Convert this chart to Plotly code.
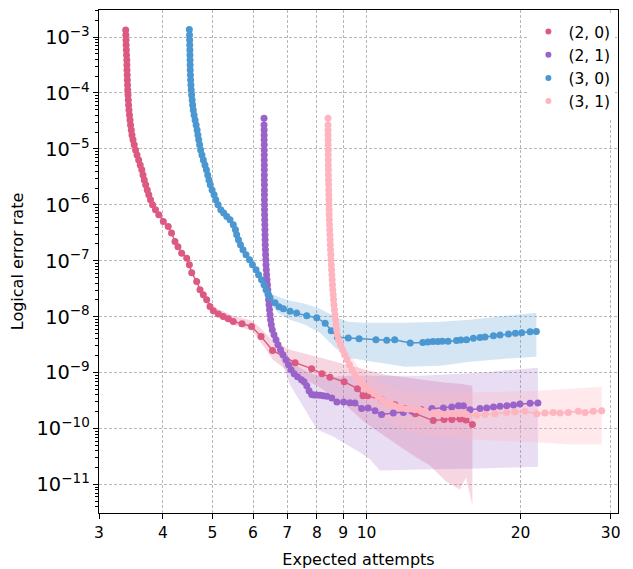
import math
import plotly.graph_objects as go

# ---- series (2, 0) ----
x20 = [3.383, 3.385, 3.388, 3.39, 3.393, 3.396, 3.40, 3.401, 3.403, 3.406,
       3.408, 3.411, 3.414, 3.418, 3.423, 3.427, 3.433, 3.441, 3.449, 3.458,
       3.469, 3.480, 3.496, 3.515, 3.537, 3.560, 3.586, 3.611, 3.637, 3.657,
       3.678, 3.701, 3.728, 3.753, 3.782, 3.817, 3.868, 3.926,
       4.007, 4.096, 4.158, 4.223, 4.28, 4.352, 4.452, 4.505, 4.553, 4.656,
       4.726, 4.797, 4.87, 4.943, 5.018, 5.134, 5.248, 5.368, 5.49, 5.71,
       5.96, 6.22, 6.55, 7.25, 7.81, 8.18, 8.48, 9.04, 9.60, 9.84,
       10.05, 10.72, 11.36, 11.89, 12.45, 13.5, 14.17, 14.68, 15.23, 15.64, 16.1]
y20 = [1.33e-3, 1.09e-3, 8.84e-4, 7.19e-4, 5.86e-4, 4.77e-4, 3.88e-4, 3.16e-4, 2.57e-4, 2.10e-4,
       1.71e-4, 1.39e-4, 1.13e-4, 9.21e-5, 7.50e-5, 6.11e-5, 4.97e-5, 4.05e-5, 3.29e-5, 2.68e-5,
       2.18e-5, 1.78e-5, 1.45e-5, 1.18e-5, 9.60e-6, 7.81e-6, 6.36e-6, 5.18e-6, 4.22e-6, 3.43e-6,
       2.79e-6, 2.28e-6, 1.85e-6, 1.51e-6, 1.23e-6, 1.0e-6, 8.14e-7, 6.63e-7,
       5.04e-7, 4.10e-7, 3.13e-7, 2.21e-7, 1.78e-7, 1.37e-7, 1.11e-7, 8.49e-8, 6.11e-8, 4.27e-8,
       3.03e-8, 2.47e-8, 2.01e-8, 1.53e-8, 1.28e-8, 1.12e-8, 1.01e-8, 9.21e-9, 8.24e-9, 7.50e-9,
       6.71e-9, 4.45e-9, 2.50e-9, 1.51e-9, 1.18e-9, 9.60e-10, 8.31e-10, 6.90e-10, 5.18e-10, 3.88e-10,
       3.88e-10, 3.29e-10, 2.68e-10, 2.28e-10, 1.85e-10, 1.39e-10, 1.45e-10, 1.45e-10, 1.48e-10, 1.42e-10, 1.18e-10]
band_x20 = [4.726, 5.011, 5.483, 5.972, 6.219, 6.563, 7.086, 8.001, 9.077, 9.929,
            10.86, 11.62, 12.43, 13.30, 14.30, 15.23, 15.64, 16.1]
band_lo20 = [2.68e-8, 1.09e-8, 7.19e-9, 5.62e-9, 3.43e-9, 1.71e-9, 1.0e-9, 5.86e-10, 2.68e-10, 1.28e-10,
             7.19e-11, 4.77e-11, 3.16e-11, 2.18e-11, 1.13e-11, 8.14e-12, 1.33e-11, 4.22e-12]
band_hi20 = [3.43e-8, 1.51e-8, 1.04e-8, 8.49e-9, 6.11e-9, 3.73e-9, 2.57e-9, 1.93e-9, 1.39e-9, 1.13e-9,
             9.21e-10, 8.49e-10, 7.82e-10, 7.19e-10, 6.63e-10, 6.36e-10, 6.11e-10, 5.86e-10]

# ---- series (2, 1) ----
x21 = [6.304, 6.304, 6.307, 6.307, 6.307, 6.310, 6.310, 6.310, 6.310, 6.312,
       6.312, 6.312, 6.312, 6.315, 6.315, 6.315, 6.315, 6.318, 6.318, 6.321,
       6.324, 6.327, 6.330, 6.332, 6.335, 6.338, 6.344, 6.349, 6.355, 6.361,
       6.369, 6.378, 6.389, 6.401, 6.412, 6.424, 6.435, 6.447, 6.461, 6.476,
       6.493, 6.514, 6.543, 6.593, 6.653, 6.713, 6.79, 6.866, 6.96, 7.04,
       7.12, 7.22, 7.33, 7.46, 7.55, 7.64, 7.72, 7.81, 7.90, 7.99,
       8.11, 8.23, 8.36, 8.55, 8.75, 9.02, 9.28, 9.49, 9.78, 10.07,
       10.39, 10.70, 11.28, 11.80, 12.26, 12.82, 13.42, 14.13, 14.67, 15.12,
       15.46, 15.93, 16.66, 17.17, 17.70, 18.23, 18.80, 19.37, 19.94, 20.87, 21.62]
y21 = [3.53e-5, 2.68e-5, 2.18e-5, 1.78e-5, 1.45e-5, 1.18e-5, 9.60e-6, 7.81e-6, 6.36e-6, 5.18e-6,
       4.22e-6, 3.43e-6, 2.79e-6, 2.28e-6, 1.85e-6, 1.51e-6, 1.23e-6, 1.0e-6, 8.14e-7, 6.63e-7,
       5.40e-7, 4.39e-7, 3.58e-7, 2.91e-7, 2.37e-7, 1.93e-7, 1.57e-7, 1.28e-7, 1.04e-7, 8.49e-8,
       6.91e-8, 5.62e-8, 4.58e-8, 3.73e-8, 3.03e-8, 2.47e-8, 2.01e-8, 1.64e-8, 1.33e-8, 1.09e-8,
       8.84e-9, 7.19e-9, 5.86e-9, 4.77e-9, 3.88e-9, 3.16e-9, 2.57e-9, 2.10e-9, 1.71e-9, 1.39e-9,
       1.13e-9, 9.60e-10, 8.49e-10, 7.50e-10, 6.90e-10, 5.86e-10, 4.77e-10, 4.05e-10, 4.0e-10, 3.97e-10,
       3.94e-10, 3.86e-10, 3.78e-10, 3.53e-10, 3.0e-10, 3.0e-10, 2.91e-10, 2.88e-10, 2.28e-10, 2.34e-10,
       2.09e-10, 1.78e-10, 1.91e-10, 1.95e-10, 2.04e-10, 2.18e-10, 2.28e-10, 2.34e-10, 2.44e-10, 2.57e-10,
       2.57e-10, 2.18e-10, 2.28e-10, 2.34e-10, 2.44e-10, 2.51e-10, 2.57e-10, 2.65e-10, 2.76e-10, 2.83e-10, 2.88e-10]
band_x21 = [6.419, 6.623, 6.774, 7.086, 7.412, 7.65, 8.001, 8.60, 9.281, 9.71,
            10.16, 10.62, 12.72, 16.66, 21.62]
band_lo21 = [2.28e-8, 3.43e-9, 1.93e-9, 6.11e-10, 3.03e-10, 1.93e-10, 9.60e-11, 7.19e-11, 4.77e-11, 3.73e-11,
             2.79e-11, 1.78e-11, 1.85e-11, 1.93e-11, 2.09e-11]
band_hi21 = [2.68e-8, 5.18e-9, 3.16e-9, 1.71e-9, 1.23e-9, 1.04e-9, 8.84e-10, 8.49e-10, 8.84e-10, 8.84e-10,
             8.84e-10, 8.84e-10, 8.84e-10, 1.0e-9, 1.23e-9]

# ---- series (3, 0) ----
x30 = [4.505, 4.509, 4.511, 4.513, 4.515, 4.517, 4.519, 4.521, 4.523, 4.527,
       4.531, 4.537, 4.543, 4.551, 4.562, 4.572, 4.585, 4.602, 4.623, 4.644,
       4.665, 4.682, 4.699, 4.718, 4.74, 4.768, 4.798, 4.833, 4.864, 4.893,
       4.92, 4.95, 4.99, 5.035, 5.074, 5.125, 5.19, 5.257, 5.332, 5.409,
       5.49, 5.544, 5.574, 5.619, 5.67, 5.734, 5.813, 5.906, 5.986, 6.082,
       6.151, 6.233, 6.304, 6.361, 6.419, 6.476, 6.623, 6.745, 6.876, 7.086,
       7.30, 7.64, 7.99, 8.30, 8.53, 8.77, 9.21, 9.67, 10.43, 10.95,
       11.35, 12.17, 12.88, 13.18, 13.48, 13.78, 14.06, 14.43, 14.99, 15.28,
       15.68, 16.17, 16.66, 17.04, 17.70, 18.23, 18.94, 19.54, 20.10, 20.87, 21.47]
y30 = [1.36e-3, 1.09e-3, 8.84e-4, 7.19e-4, 5.86e-4, 4.77e-4, 3.88e-4, 3.16e-4, 2.57e-4, 2.10e-4,
       1.71e-4, 1.39e-4, 1.13e-4, 9.21e-5, 7.50e-5, 6.11e-5, 4.97e-5, 4.05e-5, 3.29e-5, 2.68e-5,
       2.18e-5, 1.78e-5, 1.45e-5, 1.18e-5, 9.60e-6, 7.81e-6, 6.36e-6, 5.18e-6, 4.22e-6, 3.43e-6,
       2.79e-6, 2.28e-6, 1.85e-6, 1.51e-6, 1.23e-6, 1.0e-6, 8.14e-7, 7.11e-7, 6.18e-7, 5.40e-7,
       4.39e-7, 3.58e-7, 2.91e-7, 2.37e-7, 1.93e-7, 1.57e-7, 1.28e-7, 1.04e-7, 8.49e-8, 6.91e-8,
       5.62e-8, 4.58e-8, 3.73e-8, 3.03e-8, 2.58e-8, 2.18e-8, 1.78e-8, 1.51e-8, 1.39e-8, 1.25e-8,
       1.16e-8, 1.04e-8, 9.60e-9, 7.65e-9, 5.62e-9, 4.30e-9, 4.17e-9, 4.05e-9, 3.88e-9, 3.80e-9,
       3.88e-9, 3.39e-9, 3.47e-9, 3.53e-9, 3.62e-9, 3.62e-9, 3.65e-9, 3.65e-9, 3.77e-9, 3.84e-9,
       3.88e-9, 4.13e-9, 4.27e-9, 4.34e-9, 4.58e-9, 4.71e-9, 4.91e-9, 5.04e-9, 5.18e-9, 5.40e-9, 5.46e-9]
band_x30 = [6.247, 6.476, 6.71, 7.086, 7.581, 8.11, 8.676, 9.2, 9.929, 11.89,
            13.92, 15.93, 18.65, 21.47]
band_lo30 = [3.73e-8, 1.71e-8, 1.18e-8, 8.84e-9, 7.19e-9, 5.18e-9, 2.79e-9, 1.85e-9, 1.64e-9, 1.28e-9,
             1.33e-9, 1.57e-9, 1.78e-9, 1.93e-9]
band_hi30 = [4.77e-8, 2.68e-8, 2.28e-8, 1.93e-8, 1.71e-8, 1.39e-8, 1.0e-8, 8.14e-9, 7.82e-9, 7.82e-9,
             8.14e-9, 8.84e-9, 1.04e-8, 1.18e-8]

# ---- series (3, 1) ----
x31 = [8.407, 8.407, 8.407, 8.411, 8.411, 8.411, 8.415, 8.415, 8.418, 8.418,
       8.422, 8.422, 8.426, 8.430, 8.434, 8.437, 8.441, 8.445, 8.449, 8.452,
       8.456, 8.464, 8.471, 8.479, 8.487, 8.494, 8.502, 8.513, 8.521, 8.532,
       8.544, 8.555, 8.567, 8.578, 8.59, 8.605, 8.62, 8.636, 8.655, 8.676,
       8.695, 8.715, 8.742, 8.766, 8.814, 8.894, 8.975, 9.057, 9.16, 9.26,
       9.37, 9.49, 9.64, 9.80, 9.97, 10.16, 10.34, 10.53, 10.72, 10.91,
       11.11, 11.32, 11.53, 11.73, 11.98, 12.16, 12.43, 12.72, 13.01, 13.51,
       13.92, 14.23, 14.68, 15.23, 15.69, 16.41, 17.04, 17.82, 18.79, 19.50,
       20.40, 21.50, 22.32, 23.17, 23.88, 24.79, 25.93, 26.73, 27.74, 28.81]
y31 = [3.53e-5, 2.68e-5, 2.18e-5, 1.78e-5, 1.45e-5, 1.18e-5, 9.60e-6, 7.81e-6, 6.36e-6, 5.18e-6,
       4.22e-6, 3.43e-6, 2.79e-6, 2.28e-6, 1.85e-6, 1.51e-6, 1.23e-6, 1.0e-6, 8.14e-7, 6.63e-7,
       5.40e-7, 4.39e-7, 3.58e-7, 2.91e-7, 2.37e-7, 1.93e-7, 1.57e-7, 1.28e-7, 1.04e-7, 8.49e-8,
       6.91e-8, 5.62e-8, 4.58e-8, 3.73e-8, 3.03e-8, 2.47e-8, 2.01e-8, 1.64e-8, 1.33e-8, 1.09e-8,
       8.84e-9, 7.19e-9, 5.86e-9, 4.77e-9, 3.88e-9, 3.16e-9, 2.57e-9, 2.10e-9, 1.71e-9, 1.39e-9,
       1.13e-9, 9.21e-10, 7.50e-10, 6.36e-10, 5.40e-10, 4.77e-10, 4.22e-10, 3.73e-10, 3.29e-10, 2.97e-10,
       2.74e-10, 2.57e-10, 2.42e-10, 2.32e-10, 2.25e-10, 2.23e-10, 2.18e-10, 2.13e-10, 2.09e-10, 1.93e-10,
       1.89e-10, 1.78e-10, 1.85e-10, 1.85e-10, 1.78e-10, 1.74e-10, 1.78e-10, 1.85e-10, 1.95e-10, 1.99e-10,
       2.04e-10, 1.85e-10, 1.91e-10, 1.95e-10, 1.91e-10, 1.95e-10, 2.04e-10, 1.95e-10, 2.04e-10, 2.09e-10]
band_x31 = [8.676, 9.077, 9.71, 10.62, 11.62, 13.30, 16.14, 21.82, 24.98, 28.81]
band_lo31 = [4.22e-9, 1.57e-9, 3.88e-10, 1.57e-10, 9.60e-11, 7.50e-11, 6.36e-11, 5.62e-11, 5.18e-11, 5.18e-11]
band_hi31 = [5.40e-9, 2.79e-9, 1.13e-9, 6.63e-10, 4.97e-10, 4.40e-10, 4.40e-10, 4.77e-10, 5.18e-10, 5.62e-10]

labels = ["(2, 0)", "(2, 1)", "(3, 0)", "(3, 1)"]
colors = ["#dc5a82", "#9a63c9", "#4a97d1", "#ffb5c0"]
band_fill = ["rgba(220,90,130,0.25)", "rgba(154,99,201,0.22)",
             "rgba(74,151,209,0.24)", "rgba(255,181,192,0.30)"]

x_ticks = [3, 4, 5, 6, 7, 8, 9, 10, 20, 30]
x_tick_text = ["3", "4", "5", "6", "7", "8", "9", "10", "20", "30"]

series = [(x20, y20), (x21, y21), (x30, y30), (x31, y31)]
bands = [(band_x20, band_lo20, band_hi20), (band_x21, band_lo21, band_hi21),
         (band_x30, band_lo30, band_hi30), (band_x31, band_lo31, band_hi31)]

fig = go.Figure()

# confidence bands
for (bx, lo, hi), fc in zip(bands, band_fill):
    fig.add_trace(go.Scatter(
        x=bx + bx[::-1], y=hi + lo[::-1], fill="toself", fillcolor=fc,
        mode="lines", line=dict(width=0, color=fc), hoverinfo="skip", showlegend=False))

# measured curves
for (xs, ys), col, lab in zip(series, colors, labels):
    fig.add_trace(go.Scatter(
        x=xs, y=ys, mode="lines+markers", name=lab,
        line=dict(color=col, width=1.5), marker=dict(color=col, size=7),
        showlegend=False))

# legend entries (dot only)
for col, lab in zip(colors, labels):
    fig.add_trace(go.Scatter(
        x=[None], y=[None], mode="markers", name=lab, legendgroup=lab,
        marker=dict(color=col, size=6)))

axis_common = dict(
    showline=True, linecolor="black", linewidth=1.3, mirror=True,
    ticks="outside", ticklen=5, tickwidth=1.2, tickcolor="black",
    showgrid=True, gridcolor="#b8b8b8", gridwidth=0.8, griddash="3px,2px",
    zeroline=False, tickfont=dict(size=15.5, color="black"),
)

fig.update_xaxes(
    type="log", range=[math.log10(3), math.log10(31)],
    tickvals=x_ticks, ticktext=x_tick_text, automargin=False,
    title=dict(text="Expected attempts", font=dict(size=16), standoff=14),
    **axis_common)
fig.update_yaxes(
    type="log", range=[math.log10(3.1e-12), math.log10(3.04e-3)],
    dtick=1, exponentformat="power", showexponent="all", automargin=False,
    minor=dict(ticks="outside", ticklen=2.5, tickwidth=0.8, tickcolor="black",
               dtick="D1", showgrid=False),
    title=dict(text="Logical error rate", font=dict(size=16), standoff=8),
    **axis_common)

fig.update_layout(
    width=633, height=569,
    margin=dict(l=99, r=15, t=10, b=56, autoexpand=False),
    paper_bgcolor="white", plot_bgcolor="white",
    font=dict(family="DejaVu Sans", size=16, color="black"),
    legend=dict(x=0.995, y=0.99, xanchor="right", yanchor="top",
                bgcolor="white", borderwidth=0, font=dict(size=15.5),
                tracegroupgap=0, itemwidth=30),
    showlegend=True,
)

fig.write_html("out.html")
